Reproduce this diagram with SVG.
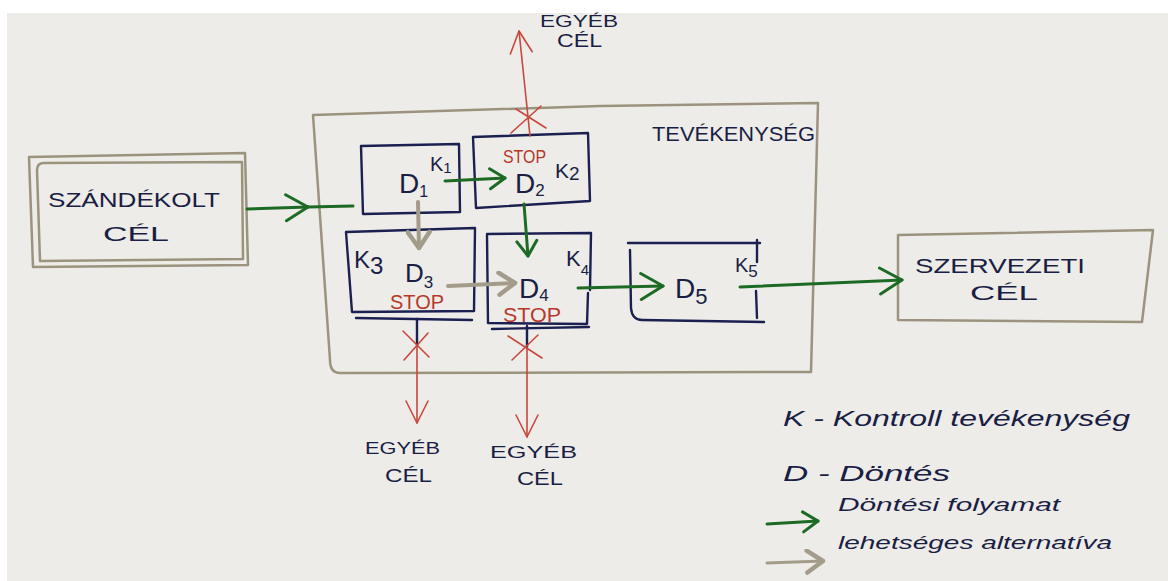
<svg xmlns="http://www.w3.org/2000/svg" width="1168" height="581" viewBox="0 0 1168 581">
<defs>
<style>
.paper{fill:#edece8}
.tan{fill:none;stroke:#9c937f;stroke-width:2.5;stroke-linejoin:round;stroke-linecap:round}
.blue{fill:none;stroke:#1b2050;stroke-width:2.4;stroke-linejoin:round;stroke-linecap:round}
.green{fill:none;stroke:#1d6a25;stroke-width:3;stroke-linecap:round}
.gray{fill:none;stroke:#a39c8a;stroke-width:4;stroke-linecap:round}
.red{fill:none;stroke:#c9473c;stroke-width:1.6;stroke-linecap:round}
.ink{fill:#1a1e44;font-family:"Liberation Sans",Arial,sans-serif}
.stop{fill:#b7382a;font-family:"Liberation Sans",Arial,sans-serif}
.hand{fill:#1a1e44;font-family:"Liberation Sans",Arial,sans-serif;font-style:italic}
</style>
<marker id="gL" viewBox="-24 -15 27 30" markerWidth="27" markerHeight="30" refX="0" refY="0" orient="auto" markerUnits="userSpaceOnUse">
<path d="M-22,-13 L0,0 L-22,13" fill="none" stroke="#1d6a25" stroke-width="3" stroke-linecap="round" stroke-linejoin="round"/>
</marker>
<marker id="gS" viewBox="-18 -12 21 24" markerWidth="21" markerHeight="24" refX="0" refY="0" orient="auto" markerUnits="userSpaceOnUse">
<path d="M-15,-10 L0,0 L-15,10" fill="none" stroke="#1d6a25" stroke-width="3" stroke-linecap="round" stroke-linejoin="round"/>
</marker>
<marker id="gr" viewBox="-20 -13 23 26" markerWidth="23" markerHeight="26" refX="0" refY="0" orient="auto" markerUnits="userSpaceOnUse">
<path d="M-16,-11 L0,0 L-16,11" fill="none" stroke="#a39c8a" stroke-width="4.5" stroke-linecap="round" stroke-linejoin="round"/>
</marker>
<marker id="rd" viewBox="-26 -14 29 28" markerWidth="29" markerHeight="28" refX="0" refY="0" orient="auto" markerUnits="userSpaceOnUse">
<path d="M-22,-11 L0,0 L-22,11" fill="none" stroke="#c9473c" stroke-width="1.6" stroke-linecap="round" stroke-linejoin="round"/>
</marker>
</defs>

<rect x="0" y="0" width="1168" height="581" fill="#ffffff"/>
<rect class="paper" x="7" y="13" width="1161" height="568"/>

<g id="szandekolt-cel">
<path class="tan" d="M29,157 L245,153 L248,265 L33,267 Z"/>
<path class="tan" d="M37,170 Q37,163 44,163 L242,162 L243,259 L40,261 Z"/>
<text class="ink" x="48" y="207" font-size="21" textLength="172" lengthAdjust="spacingAndGlyphs">SZÁNDÉKOLT</text>
<text class="ink" x="103" y="241" font-size="21" textLength="66" lengthAdjust="spacingAndGlyphs">CÉL</text>
</g>

<g id="tevekenyseg">
<path class="tan" d="M313,115 L600,106 L818,103 L811,372 L340,373 Q330,373 330,360 Q322,240 313,115 Z"/>
<text class="ink" x="652" y="141" font-size="21" textLength="163" lengthAdjust="spacingAndGlyphs">TEVÉKENYSÉG</text>
</g>

<g id="d1">
<path class="blue" d="M361,146 L459,144 L460,212 L363,214 Z"/>
<text class="ink" x="399" y="193" font-size="28">D<tspan font-size="16" dy="4">1</tspan></text>
<text class="ink" x="430" y="171" font-size="20">K<tspan font-size="15" dy="2">1</tspan></text>
</g>

<g id="d2">
<path class="blue" d="M473,137 L588,133 L590,201 L476,208 Z"/>
<text class="stop" x="503" y="163" font-size="18" textLength="43" lengthAdjust="spacingAndGlyphs">STOP</text>
<text class="ink" x="555" y="178" font-size="21">K<tspan font-size="19" dy="2">2</tspan></text>
<text class="ink" x="515" y="193" font-size="28">D<tspan font-size="17" dy="3">2</tspan></text>
</g>

<g id="d3">
<path class="blue" d="M346,232 L475,228 L474,311 L352,312 Z"/>
<path class="blue" d="M356,318 L472,320"/>
<text class="ink" x="354" y="268" font-size="24">K<tspan font-size="24" dy="6">3</tspan></text>
<text class="ink" x="405" y="282" font-size="26">D<tspan font-size="17" dy="6">3</tspan></text>
<text class="stop" x="390" y="309" font-size="20" textLength="54" lengthAdjust="spacingAndGlyphs">STOP</text>
</g>

<g id="d4">
<path class="blue" d="M487,235 L488,323 L587,324 L588,293 M590,290 L591,233 L487,234"/>
<path class="blue" d="M492,329 L589,327"/>
<text class="ink" x="566" y="266" font-size="22">K<tspan font-size="15" dy="9">4</tspan></text>
<text class="ink" x="519" y="298" font-size="28">D<tspan font-size="17" dy="3">4</tspan></text>
<text class="stop" x="503" y="322" font-size="20" textLength="58" lengthAdjust="spacingAndGlyphs">STOP</text>
</g>

<g id="d5">
<path class="blue" d="M630,250 L631,308 Q632,320 642,320 L764,322"/>
<path class="blue" d="M628,243 L760,243 M757,240 L757,262 M756,291 L757,318"/>
<text class="ink" x="675" y="298" font-size="28">D<tspan font-size="22" dy="6">5</tspan></text>
<text class="ink" x="735" y="272" font-size="20">K<tspan font-size="17" dy="5">5</tspan></text>
</g>

<g id="szervezeti-cel">
<path class="tan" d="M898,235 L1153,230 L1142,322 L898,320 Z"/>
<text class="ink" x="915" y="273" font-size="21" textLength="170" lengthAdjust="spacingAndGlyphs">SZERVEZETI</text>
<text class="ink" x="970" y="300" font-size="21" textLength="68" lengthAdjust="spacingAndGlyphs">CÉL</text>
</g>

<g id="egyeb-cel-top">
<text class="ink" x="540" y="27" font-size="17" textLength="78" lengthAdjust="spacingAndGlyphs">EGYÉB</text>
<text class="ink" x="557" y="47" font-size="18" textLength="45" lengthAdjust="spacingAndGlyphs">CÉL</text>
</g>

<g id="egyeb-cel-left">
<text class="ink" x="365" y="454" font-size="16" textLength="75" lengthAdjust="spacingAndGlyphs">EGYÉB</text>
<text class="ink" x="385" y="482" font-size="18" textLength="47" lengthAdjust="spacingAndGlyphs">CÉL</text>
</g>

<g id="egyeb-cel-right">
<text class="ink" x="490" y="458" font-size="16" textLength="87" lengthAdjust="spacingAndGlyphs">EGYÉB</text>
<text class="ink" x="517" y="485" font-size="18" textLength="46" lengthAdjust="spacingAndGlyphs">CÉL</text>
</g>

<g id="connectors">
<path class="green" d="M247,209 L308,207" marker-end="url(#gL)"/>
<path class="green" d="M308,207 L353,206"/>
<path class="green" d="M445,181 L505,178" marker-end="url(#gS)"/>
<path class="green" d="M524,204 L528,256" marker-end="url(#gS)"/>
<path class="green" d="M578,288 L663,286" marker-end="url(#gL)"/>
<path class="green" d="M740,287 L902,280" marker-end="url(#gL)"/>
<path class="gray" d="M418,202 L419,248" marker-end="url(#gr)"/>
<path class="gray" d="M448,286 L515,283" marker-end="url(#gr)"/>
<path class="red" d="M530,136 L519,31" marker-end="url(#rd)"/>
<path class="red" d="M516,109 L546,128 M511,133 L541,106"/>
<path class="blue" d="M417,319 L417,345" stroke-width="1.6"/>
<path class="red" d="M417,345 L417,423" marker-end="url(#rd)"/>
<path class="red" d="M403,331 L429,357 M404,360 L428,333"/>
<path class="blue" d="M527,326 L527,347" stroke-width="1.6" stroke="#6d6a60"/>
<path class="red" d="M527,347 L527,437" marker-end="url(#rd)"/>
<path class="red" d="M508,336 L542,358 M512,360 L538,335"/>
</g>

<g id="legend">
<text class="hand" x="783" y="426" font-size="22" textLength="347" lengthAdjust="spacingAndGlyphs">K - Kontroll tevékenység</text>
<text class="hand" x="783" y="481" font-size="22" textLength="167" lengthAdjust="spacingAndGlyphs">D - Döntés</text>
<text class="hand" x="838" y="511" font-size="18" textLength="222" lengthAdjust="spacingAndGlyphs">Döntési folyamat</text>
<text class="hand" x="838" y="549" font-size="18" textLength="274" lengthAdjust="spacingAndGlyphs">lehetséges alternatíva</text>
<path d="M767,524 L818,521" fill="none" stroke="#1d6a25" stroke-width="3" stroke-linecap="round" marker-end="url(#gS)"/>
<path d="M767,563 L823,561" fill="none" stroke="#a39c8a" stroke-width="3" stroke-linecap="round" marker-end="url(#gr)"/>
</g>
</svg>
